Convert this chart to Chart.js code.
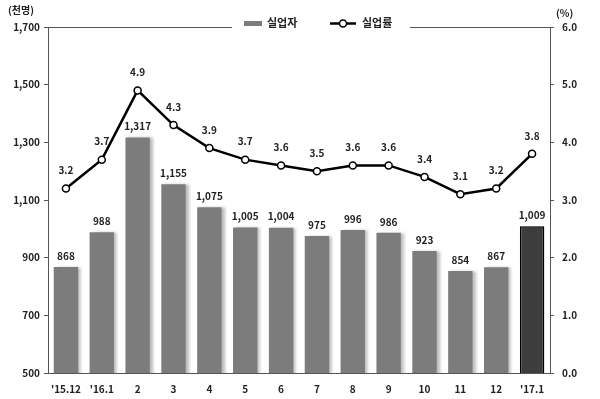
<!DOCTYPE html>
<html>
<head>
<meta charset="utf-8">
<script src="https://cdn.jsdelivr.net/npm/chart.js@4"></script>
<style>
	html, body { margin: 0; padding: 0; background: #fff; }
	#wrap { width: 600px; height: 399px; }
</style>
</head>
<body>
<div id="wrap"><canvas id="unempChart"></canvas></div>
<script>
const months = ["'15.12", "'16.1", '2', '3', '4', '5', '6', '7', '8', '9', '10', '11', '12', "'17.1"];
const unemployed = [868, 988, 1317, 1155, 1075, 1005, 1004, 975, 996, 986, 923, 854, 867, 1009]; // 천명
const unempRate = [3.2, 3.7, 4.9, 4.3, 3.9, 3.7, 3.6, 3.5, 3.6, 3.6, 3.4, 3.1, 3.2, 3.8]; // %
const leftTicks = [500, 700, 900, 1100, 1300, 1500, 1700];

const FONT = '"Noto Sans CJK KR", "Liberation Sans", sans-serif';
const lastIdx = unemployed.length - 1;

// soft shadow to the right of the bars
const barShadow = {
	id: 'barShadow',
	beforeDatasetDraw(chart, args) {
		if (args.index !== 0) return;
		const c = chart.ctx;
		c.save();
		c.shadowColor = 'rgba(0,0,0,0.28)';
		c.shadowOffsetX = 3;
		c.shadowOffsetY = 0;
		c.shadowBlur = 3;
	},
	afterDatasetDraw(chart, args) {
		if (args.index !== 0) return;
		chart.ctx.restore();
	}
};

// frame, legend, unit titles and value labels
const decor = {
	id: 'decor',
	afterDraw(chart) {
		const c = chart.ctx;
		const a = chart.chartArea;
		c.save();
		// top frame with a gap for the legend
		c.strokeStyle = '#555';
		c.lineWidth = 1;
		c.beginPath();
		c.moveTo(a.left, a.top + 0.5); c.lineTo(232, a.top + 0.5);
		c.moveTo(410, a.top + 0.5); c.lineTo(a.right, a.top + 0.5);
		c.stroke();

		// unit titles
		c.fillStyle = '#222';
		c.font = 'bold 10px ' + FONT;
		c.textAlign = 'left';
		c.textBaseline = 'middle';
		c.fillText('(천명)', 8, 10);
		c.fillText('(%)', 556, 13);

		// legend
		c.font = 'bold 11px ' + FONT;
		c.fillStyle = '#7d7d7d';
		c.fillRect(244, 21, 18, 5);
		c.fillStyle = '#222';
		c.fillText(chart.data.datasets[0].label, 267, 23);
		c.strokeStyle = '#000';
		c.lineWidth = 2.5;
		c.beginPath(); c.moveTo(330, 23.5); c.lineTo(356, 23.5); c.stroke();
		c.fillStyle = '#fff';
		c.lineWidth = 1.5;
		c.beginPath(); c.arc(343, 23.5, 3.5, 0, Math.PI * 2); c.fill(); c.stroke();
		c.fillStyle = '#222';
		c.fillText(chart.data.datasets[1].label, 362, 23);

		// value labels
		c.textAlign = 'center';
		c.textBaseline = 'bottom';
		c.font = 'bold 10px ' + FONT;
		chart.getDatasetMeta(0).data.forEach((el, i) => {
			c.fillText(unemployed[i].toLocaleString('en-US'), el.x, el.y - 6);
		});
		chart.getDatasetMeta(1).data.forEach((el, i) => {
			c.fillText(unempRate[i].toFixed(1), el.x, el.y - 13);
		});
		c.restore();
	}
};

new Chart(document.getElementById('unempChart'), {
	data: {
		labels: months,
		datasets: [{
			type: 'bar',
			label: '실업자',
			data: unemployed,
			yAxisID: 'y',
			backgroundColor: ctx => ctx.dataIndex === lastIdx ? '#3d3d3d' : '#7c7c7c',
			borderColor: ctx => ctx.dataIndex === lastIdx ? '#000' : 'rgba(0,0,0,0)',
			borderWidth: ctx => ctx.dataIndex === lastIdx ? 1.5 : 0,
			barPercentage: 0.68,
			categoryPercentage: 1,
			order: 2
		}, {
			type: 'line',
			label: '실업률',
			data: unempRate,
			yAxisID: 'y1',
			borderColor: '#000',
			borderWidth: 2.5,
			pointBackgroundColor: '#fff',
			pointBorderColor: '#000',
			pointBorderWidth: 1.5,
			pointRadius: 3.5,
			tension: 0,
			order: 1
		}]
	},
	options: {
		responsive: true,
		maintainAspectRatio: false,
		animation: false,
		layout: { padding: { top: 27, left: 0, right: 0, bottom: 0 } },
		plugins: {
			legend: { display: false },
			tooltip: { enabled: false }
		},
		scales: {
			x: {
				offset: true,
				grid: { display: false, drawOnChartArea: false },
				border: { color: '#555', width: 1 },
				ticks: { color: '#222', font: { family: FONT, size: 10, weight: 'bold' }, maxRotation: 0, autoSkip: false, padding: 2 },
				afterFit: s => { s.height = 26; }
			},
			y: {
				position: 'left',
				min: 500,
				max: 1700,
				afterBuildTicks: s => { s.ticks = leftTicks.map(v => ({ value: v })); },
				grid: { drawOnChartArea: false, tickLength: 4, color: '#555' },
				border: { color: '#555', width: 1 },
				ticks: {
					color: '#222',
					font: { family: FONT, size: 10, weight: 'bold' },
					padding: 4,
					callback: v => v.toLocaleString('en-US')
				},
				afterFit: s => { s.width = 48; }
			},
			y1: {
				position: 'right',
				min: 0,
				max: 6,
				grid: { drawOnChartArea: false, tickLength: 4, color: '#555' },
				border: { color: '#555', width: 1 },
				ticks: {
					stepSize: 1,
					color: '#222',
					font: { family: FONT, size: 10, weight: 'bold' },
					padding: 8,
					callback: v => Number(v).toFixed(1)
				},
				afterFit: s => { s.width = 50; }
			}
		}
	},
	plugins: [barShadow, decor]
});
</script>
</body>
</html>
